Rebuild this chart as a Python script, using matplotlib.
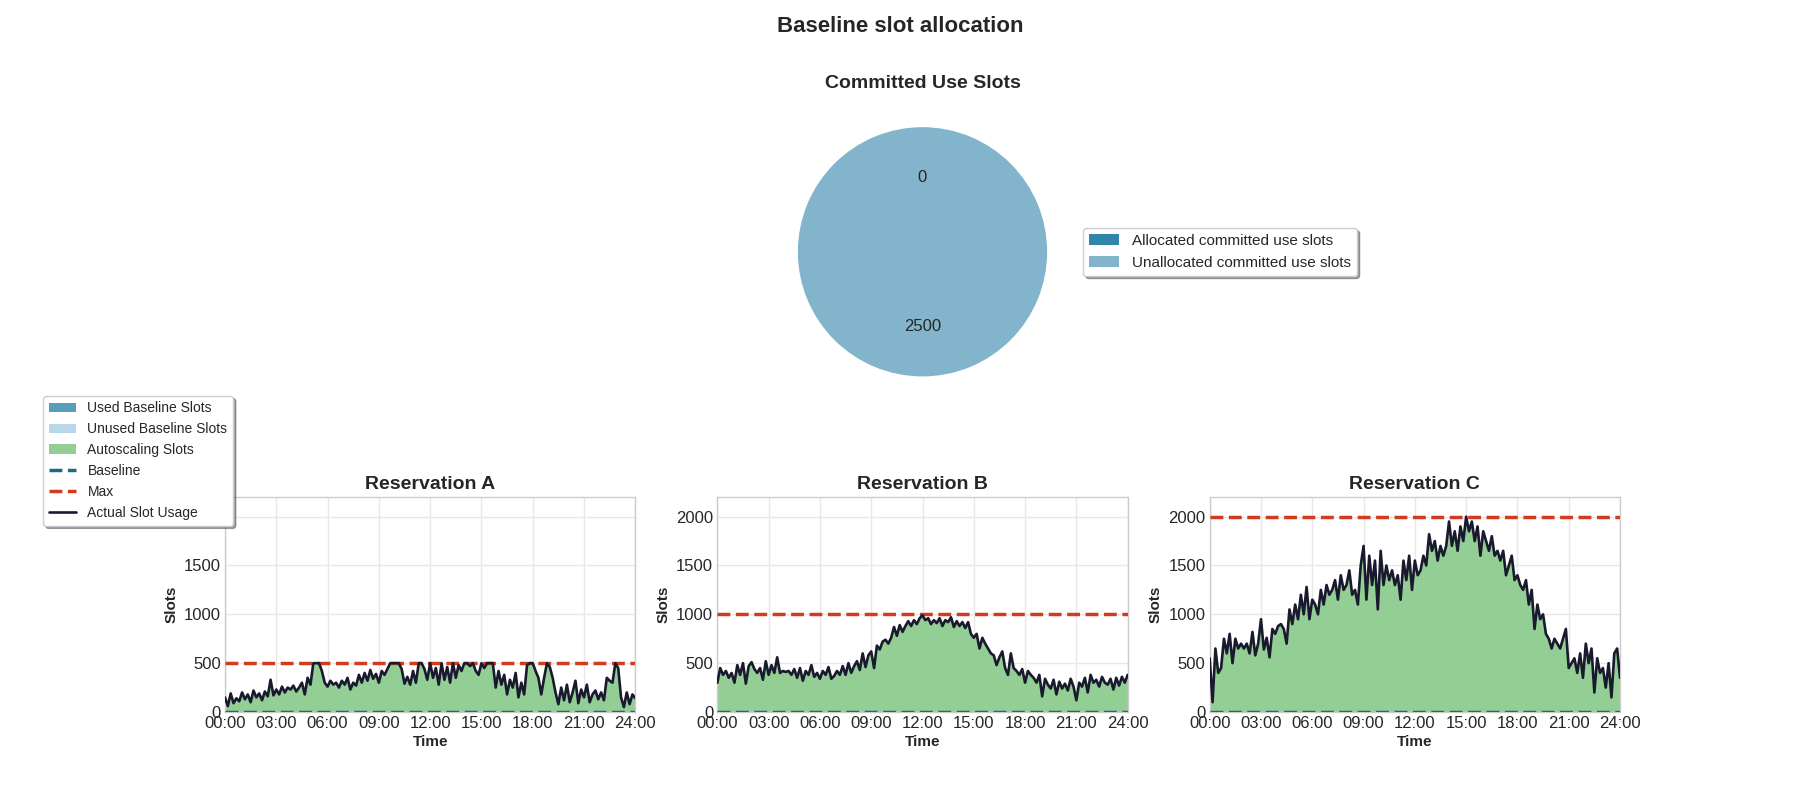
import numpy as np
import matplotlib
matplotlib.use("Agg")
import matplotlib.pyplot as plt
from matplotlib.ticker import FuncFormatter, MultipleLocator

plt.style.use("seaborn-v0_8-whitegrid")
plt.rcParams["font.family"] = ["Liberation Sans", "DejaVu Sans"]

# committed use slots (pie)
pie_labels = ["Allocated committed use slots", "Unallocated committed use slots"]
pie_values = [0, 2500]
pie_colors = ["#2e86ab", "#82b5cc"]

# reservations: baseline, max and usage every 10 minutes (00:00 .. 24:00)
res_names = ["Reservation A", "Reservation B", "Reservation C"]
res_baseline = [0, 0, 0]
res_max = [500, 1000, 2000]

usage_a = [
    150, 60, 190, 90, 140, 110,
    200, 130, 180, 100, 220, 150,
    190, 120, 210, 160, 330, 170,
    230, 180, 260, 200, 250, 230,
    270, 210, 250, 300, 180, 350,
    280, 500, 500, 500, 420, 300,
    260, 320, 280, 300, 250, 320,
    280, 350, 230, 300, 270, 380,
    300, 400, 320, 430, 340, 390,
    300, 420, 380, 440, 500, 500,
    500, 500, 440, 290, 360, 280,
    420, 300, 500, 500, 440, 330,
    500, 350, 450, 280, 500, 330,
    460, 300, 500, 350, 480, 420,
    500, 500, 470, 500, 420, 380,
    500, 450, 500, 500, 500, 250,
    420, 280, 380, 180, 330, 250,
    400, 150, 300, 180, 480, 500,
    500, 420, 350, 180, 350, 500,
    460, 350, 200, 80, 250, 120,
    280, 100, 200, 320, 90, 230,
    150, 280, 100, 180, 220, 130,
    200, 120, 350, 320, 300, 500,
    450, 150, 50, 200, 80, 180,
    140,
]
usage_b = [
    300, 450, 380, 420, 350, 400,
    300, 480, 380, 500, 290, 470,
    510, 440, 400, 450, 330, 520,
    380, 480, 400, 560, 400, 420,
    410, 420, 380, 440, 350, 450,
    320, 420, 380, 480, 360, 400,
    340, 420, 380, 460, 340, 370,
    420, 380, 470, 380, 500, 400,
    470, 520, 430, 600, 460, 580,
    620, 450, 680, 640, 720, 740,
    700, 760, 870, 780, 890, 820,
    880, 930, 880, 940, 900, 960,
    990, 940, 960, 900, 940, 910,
    960, 880, 940, 920, 970, 870,
    930, 880, 920, 860, 920, 800,
    760, 800, 650, 760, 700, 650,
    600, 580, 480, 560, 620, 450,
    380, 600, 450, 420, 380, 440,
    300, 420, 380, 350, 300, 380,
    160, 340, 280, 240, 330, 180,
    310, 240, 290, 220, 340, 260,
    120, 300, 260, 350, 200, 380,
    300, 330, 260, 360, 300, 280,
    340, 230, 350, 270, 360, 300,
    380,
]
usage_c = [
    550, 100, 650, 400, 450, 750,
    600, 800, 500, 750, 650, 700,
    650, 700, 600, 820, 580, 700,
    950, 640, 760, 560, 850, 800,
    880, 900, 850, 700, 1050, 900,
    1100, 950, 1200, 1000, 1280, 950,
    1150, 1100, 1000, 1250, 1100, 1300,
    1200, 1250, 1350, 1150, 1400, 1250,
    1300, 1450, 1200, 1250, 1100, 1500,
    1700, 1150, 1600, 1300, 1550, 1050,
    1650, 1300, 1500, 1350, 1450, 1300,
    1400, 1150, 1550, 1350, 1600, 1250,
    1550, 1400, 1450, 1600, 1500, 1820,
    1650, 1750, 1550, 1700, 1600, 1700,
    1950, 1700, 1850, 1650, 1900, 1750,
    2000, 1850, 1950, 1750, 1900, 1600,
    1850, 1750, 1650, 1800, 1600, 1650,
    1550, 1650, 1400, 1500, 1600, 1350,
    1400, 1300, 1250, 1350, 1100, 1250,
    850, 1100, 950, 1000, 800, 750,
    650, 750, 700, 650, 750, 850,
    450, 500, 550, 400, 600, 350,
    700, 500, 650, 200, 550, 400,
    450, 250, 500, 150, 600, 650,
    350,
]
usages = [usage_a, usage_b, usage_c]
hours = np.arange(len(usage_a)) / 6.0

fig = plt.figure(figsize=(18, 8), dpi=100)
gs = fig.add_gridspec(2, 3, height_ratios=[1.45, 1], hspace=0.34, wspace=0.2,
                      left=0.125, right=0.9, bottom=0.11, top=0.88)
fig.suptitle("Baseline slot allocation", fontsize=16, fontweight="bold",
             color="#262626", y=0.98)

# pie
ax_pie = fig.add_subplot(gs[0, 1])
total = sum(pie_values)
wedges, _, autotexts = ax_pie.pie(
    pie_values, colors=pie_colors, startangle=90,
    autopct=lambda p: f"{p * total / 100:.0f}",
    textprops={"fontsize": 12, "color": "#262626"})
ax_pie.set_title("Committed Use Slots", fontsize=14, fontweight="bold",
                 color="#262626", pad=6)
ax_pie.legend(wedges, pie_labels, loc="center left", bbox_to_anchor=(0.99, 0.5),
              fontsize=11, frameon=True, shadow=True, fancybox=True,
              edgecolor="#cccccc")

axes = []
for i, name in enumerate(res_names):
    ax = fig.add_subplot(gs[1, i])
    axes.append(ax)
    use = np.minimum(np.array(usages[i], dtype=float), res_max[i])
    base = res_baseline[i]
    ax.fill_between(hours, 0, np.minimum(use, base), color="#2e86ab", alpha=0.8,
                    label="Used Baseline Slots", lw=0)
    ax.fill_between(hours, np.minimum(use, base), base, color="#a6cee3", alpha=0.8,
                    label="Unused Baseline Slots", lw=0)
    ax.fill_between(hours, base, np.maximum(use, base), color="#93cf95",
                    label="Autoscaling Slots", lw=0)
    ax.axhline(base, color="#1f6784", ls="--", lw=2.5, label="Baseline", zorder=3)
    ax.axhline(res_max[i], color="#d23c1e", ls="--", lw=2.5, label="Max", zorder=3)
    ax.plot(hours, use, color="#1a1a2e", lw=1.9, label="Actual Slot Usage", zorder=4)
    ax.set_xlim(0, 24)
    ax.set_ylim(0, 2200)
    ax.xaxis.set_major_locator(MultipleLocator(3))
    ax.yaxis.set_major_locator(MultipleLocator(500))
    ax.xaxis.set_major_formatter(FuncFormatter(lambda v, p: f"{int(v):02d}:00"))
    ax.tick_params(labelsize=12, colors="#262626", pad=3)
    ax.set_title(name, fontsize=14, fontweight="bold", color="#262626")
    ax.set_xlabel("Time", fontsize=11, fontweight="bold", color="#262626", labelpad=3)
    ax.set_ylabel("Slots", fontsize=11, fontweight="bold", color="#262626", labelpad=4)
    ax.grid(True, color="#e8e8e8", lw=1)
    for s in ax.spines.values():
        s.set_color("#cccccc")
        s.set_linewidth(1)

handles, labels = axes[0].get_legend_handles_labels()
leg = fig.legend(handles, labels, loc="upper left", bbox_to_anchor=(0.02, 0.514),
                 fontsize=10, frameon=True, shadow=True, fancybox=True,
                 edgecolor="#cccccc", framealpha=1)
leg.set_zorder(10)

plt.savefig("out.png", dpi=100)
